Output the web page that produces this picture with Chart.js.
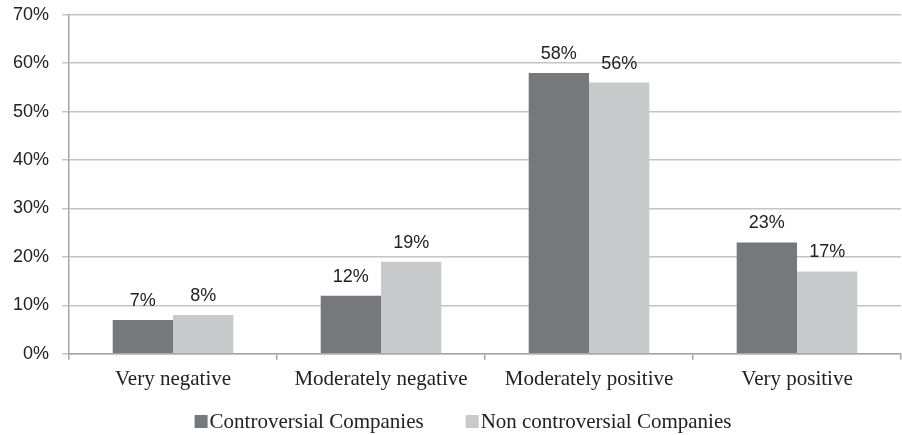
<!DOCTYPE html>
<html>
<head>
<meta charset="utf-8">
<script src="https://cdn.jsdelivr.net/npm/chart.js@4/dist/chart.umd.min.js"></script>
<style>
  html, body { margin: 0; padding: 0; background: #fff; }
  #wrap { width: 902px; height: 435px; }
</style>
</head>
<body>
<div id="wrap"><canvas id="c" width="902" height="435"></canvas></div>
<script>
const categories = ['Very negative', 'Moderately negative', 'Moderately positive', 'Very positive'];
const controversial = [7, 12, 58, 23];
const nonControversial = [8, 19, 56, 17];
const seriesNames = ['Controversial Companies', 'Non controversial Companies'];
const yTicks = [0, 10, 20, 30, 40, 50, 60, 70];

const SERIF = '"Liberation Serif", "Times New Roman", serif';
const SANS = '"Liberation Sans", Arial, sans-serif';

// Writes each bar's percentage just above it
const valueLabels = {
  id: 'valueLabels',
  afterDatasetsDraw(chart) {
    const ctx = chart.ctx;
    ctx.save();
    ctx.font = '18px ' + SANS;
    ctx.fillStyle = '#222';
    ctx.textAlign = 'center';
    ctx.textBaseline = 'alphabetic';
    chart.data.datasets.forEach((ds, i) => {
      chart.getDatasetMeta(i).data.forEach((bar, j) => {
        ctx.fillText(ds.data[j] + '%', bar.x, bar.y - 14);
      });
    });
    ctx.restore();
  }
};

// Compact legend row under the axis: small square swatch tight against its label
const bottomLegend = {
  id: 'bottomLegend',
  afterDraw(chart) {
    const ctx = chart.ctx;
    const box = 13, gapBox = 2, gapItem = 42, baseline = 428;
    ctx.save();
    ctx.font = '21px ' + SERIF;
    ctx.textBaseline = 'alphabetic';
    ctx.textAlign = 'left';
    const items = chart.data.datasets.map(ds => ({
      text: ds.label, color: ds.backgroundColor, w: ctx.measureText(ds.label).width
    }));
    const total = items.reduce((s, it) => s + box + gapBox + it.w, 0) + gapItem * (items.length - 1);
    let x = chart.width / 2 + 12 - total / 2;
    items.forEach(it => {
      ctx.fillStyle = it.color;
      ctx.fillRect(x, baseline - box, box, box);
      x += box + gapBox;
      ctx.fillStyle = '#222';
      ctx.fillText(it.text, x, baseline);
      x += it.w + gapItem;
    });
    ctx.restore();
  }
};

new Chart(document.getElementById('c'), {
  type: 'bar',
  data: {
    labels: categories,
    datasets: [
      { label: seriesNames[0], data: controversial, backgroundColor: '#77787b' },
      { label: seriesNames[1], data: nonControversial, backgroundColor: '#c8c9cb' }
    ]
  },
  options: {
    responsive: false,
    animation: false,
    layout: { padding: { top: 0, right: 1, left: 0, bottom: 36 } },
    datasets: { bar: { categoryPercentage: 0.58, barPercentage: 1.0 } },
    scales: {
      x: {
        grid: { display: true, drawOnChartArea: false, offset: true, tickLength: 6, color: '#a6a6a6', lineWidth: 1.5 },
        border: { color: '#a6a6a6', width: 1.5 },
        ticks: { color: '#222', padding: 7, font: { family: SERIF, size: 21 } }
      },
      y: {
        min: 0, max: 70,
        afterBuildTicks(axis) { axis.ticks = yTicks.map(v => ({ value: v })); },
        grid: { color: '#c4c4c4', lineWidth: 1.5, tickLength: 7 },
        border: { color: '#a6a6a6', width: 1.5 },
        ticks: {
          color: '#222', padding: 13,
          font: { family: SANS, size: 18, lineHeight: 0.2 },
          callback: v => v + '%'
        }
      }
    },
    plugins: {
      legend: { display: false },
      tooltip: { enabled: false }
    }
  },
  plugins: [valueLabels, bottomLegend]
});
</script>
</body>
</html>
